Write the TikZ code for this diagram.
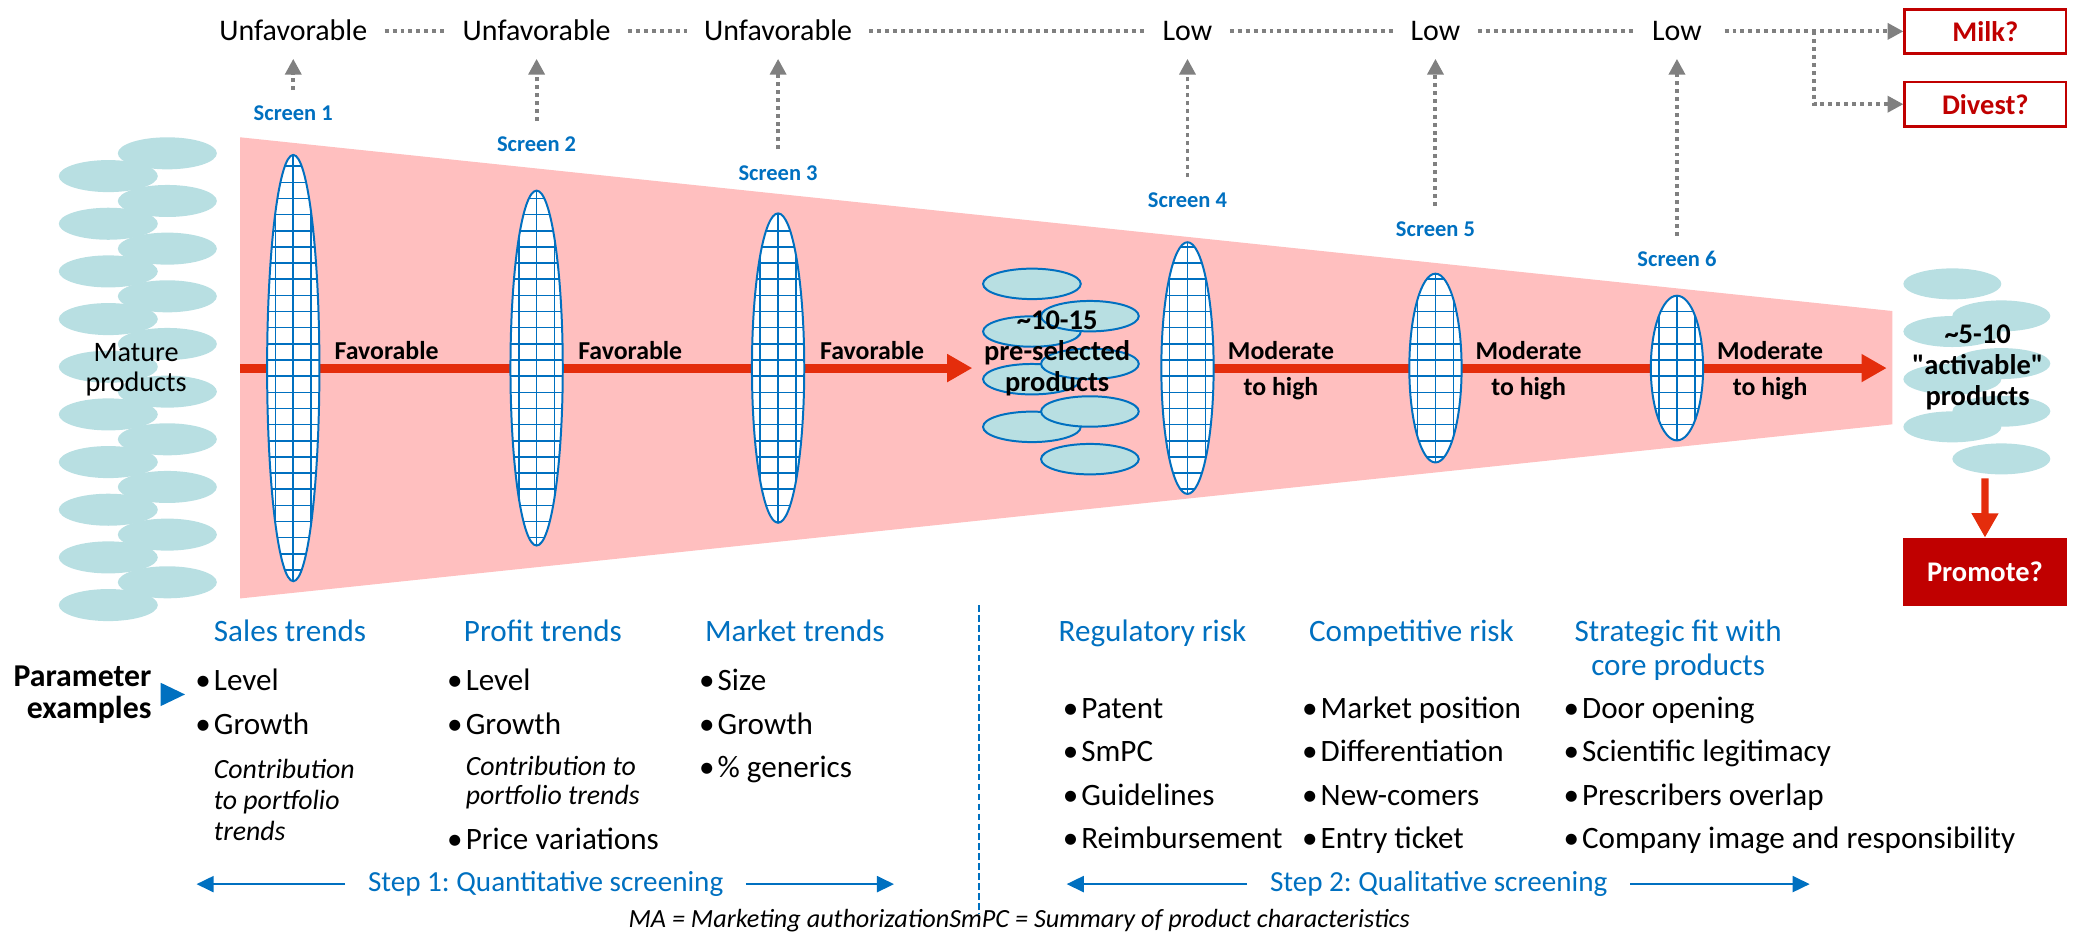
\documentclass[tikz,border=0pt]{standalone}
\usepackage{fontspec}
\setmainfont{Carlito}
\usetikzlibrary{arrows.meta,shapes.geometric}
\definecolor{myblue}{HTML}{0070C0}
\definecolor{arrowred}{HTML}{E42D0C}
\definecolor{wedgepink}{HTML}{FFBFBF}
\definecolor{prodblue}{HTML}{B8DFE2}
\definecolor{darkred}{HTML}{C00000}
\definecolor{dotgray}{HTML}{808080}
\pgfdeclarelayer{bg}
\pgfdeclarelayer{flow}
\pgfsetlayers{bg,flow,main}
\frenchspacing
\newcommand\itm{\makebox[13pt][l]{\hspace{-1pt}\textbullet}}
\tikzset{
  resultlabel/.style={font=\fontsize{22.6}{26}\selectfont, inner sep=0pt, text height=14pt, text depth=0pt, anchor=base},
  screenlabel/.style={font=\fontsize{17}{20}\selectfont\bfseries, text=myblue, inner sep=0pt, text height=11pt, text depth=0pt, anchor=base},
  dotline/.style={draw=dotgray, line width=3pt, dash pattern=on 3pt off 3pt},
  dotarrow/.style={dotline, -{Triangle[length=12pt,width=12pt]}},
  flowarrow/.style={draw=arrowred, line width=6.8pt, -{Triangle[length=19pt,width=20pt]}},
  lens/.style={ellipse, draw=myblue, line width=1.5pt, fill=white, minimum width=39.5pt, inner sep=0pt, outer sep=0pt,
    path picture={
      \foreach \dx in {-13.5,0,13.5}
        \draw[myblue, line width=1.2pt] ([xshift=\dx pt]path picture bounding box.north) -- ([xshift=\dx pt]path picture bounding box.south);
      \foreach \k in {-14,...,13}
        \draw[myblue, line width=1.2pt] ([yshift=\k*12.2pt+6.1pt]path picture bounding box.west) -- ([yshift=\k*12.2pt+6.1pt]path picture bounding box.east);
    }},
  cellout/.style={draw=myblue, fill=prodblue, line width=1.5pt},
  passlabel/.style={font=\fontsize{19.5}{27}\selectfont\bfseries, align=center, inner sep=0pt, anchor=base},
  grouplabel/.style={font=\fontsize{21.5}{23.3}\selectfont\bfseries, align=center, inner sep=0pt, anchor=base},
  decision/.style={draw=darkred, line width=2pt, fill=white, text=darkred, font=\fontsize{21.5}{24}\selectfont\bfseries, minimum width=121.7pt, minimum height=33.3pt, inner sep=0pt},
  promotebox/.style={fill=darkred, text=white, font=\fontsize{21.5}{24}\selectfont\bfseries, minimum width=124.3pt, minimum height=51.7pt, inner sep=0pt, outer sep=0pt},
  heading/.style={font=\fontsize{23.5}{25.7}\selectfont, text=myblue, inner sep=0pt, anchor=base west},
  bullet/.style={font=\fontsize{23.5}{28}\selectfont, inner sep=0pt, anchor=base west},
  italnote/.style={font=\fontsize{21}{23.3}\selectfont\itshape, align=left, inner sep=0pt, anchor=base west},
  steplabel/.style={font=\fontsize{22}{26}\selectfont, text=myblue, inner sep=0pt, anchor=base},
  steparrow/.style={draw=myblue, line width=2pt, shorten <=17pt, -{Triangle[length=13pt,width=12pt]}}
}
\begin{document}
\begin{tikzpicture}[x=1pt,y=-1pt]
\useasboundingbox (0,0) rectangle (1568,706);

% funnel
\begin{pgfonlayer}{bg}
  \fill[wedgepink] (181.4,103.7) -- (1429.2,234.9) -- (1429.2,320.5) -- (181.4,452) -- cycle;
\end{pgfonlayer}

% mature products
\foreach \k in {0,...,9} {
  \fill[prodblue] (126.4,115.8+36*\k) ellipse [x radius=37.4, y radius=12.1];
  \fill[prodblue] (81.8,133+36*\k) ellipse [x radius=37.4, y radius=12.1];
}
\node[font=\fontsize{21.3}{23.2}\selectfont, align=center, inner sep=0pt, anchor=base] (mature) at (102.8,295.9) {Mature\\products};

% screens, results above
\foreach \i/\x/\h/\r/\sy in {1/221.5/322/Unfavorable/91.2, 2/405.3/268.1/Unfavorable/114.6, 3/587.7/233.7/Unfavorable/136,
    4/896.9/190.1/Low/156.6, 5/1084.2/142.6/Low/178.8, 6/1266.6/109.3/Low/201.4} {
  \node[resultlabel] (res\i) at (\x,30.7) {\r};
  \node[screenlabel] (scr\i) at (\x,\sy) {Screen \i};
  \node[lens, minimum height=\h pt] (lens\i) at (\x,278) {};
  \draw[dotarrow, shorten <=12pt, shorten >=13.5pt] (scr\i) -- (res\i);
}
\foreach \a/\b in {1/2,2/3,3/4,4/5,5/6}
  \draw[dotline, shorten <=13pt, shorten >=13pt] (res\a) -- (res\b);

\node[decision] (milk) at (1499.5,23.7) {Milk?};
\node[decision] (divest) at (1499.5,78.7) {Divest?};
\coordinate (fork) at (1370,23.7);
\draw[dotarrow, shorten <=17pt] (res6) -- (milk);
\draw[dotarrow] (fork) |- (divest);

% main flow
\coordinate (fin) at (181.4,278);
\coordinate (fmid) at (734.4,278);
\coordinate (fout) at (1425,278);
\begin{pgfonlayer}{flow}
  \draw[flowarrow] (fin) -- (fmid);
  \draw[flowarrow] (lens4.center) -- (fout);
\end{pgfonlayer}
\foreach \i/\x in {1/292,2/476,3/658.7}
  \node[passlabel] (fav\i) at (\x,271.4) {Favorable};
\foreach \i/\x in {4/967.5,5/1154.6,6/1337}
  \node[passlabel] (mod\i) at (\x,298.5) {Moderate\\to high};

% pre-selected and activable groups
\foreach \k in {0,...,3} \draw[cellout] (779.4,214.4+36*\k) ellipse [x radius=36.9, y radius=11.5];
\foreach \k in {0,...,3} \draw[cellout] (823.2,238.8+36*\k) ellipse [x radius=36.9, y radius=11.5];
\node[grouplabel] (presel) at (798.5,295.4) {\textasciitilde10-15\\pre-selected\\products};
\foreach \k in {0,...,3} {
  \fill[prodblue] (1474.6,214.4+36*\k) ellipse [x radius=37, y radius=11.7];
  \fill[prodblue] (1511.6,238.6+36*\k) ellipse [x radius=37, y radius=11.7];
}
\node[grouplabel] (activ) at (1493.7,306.4) {\textasciitilde5-10\\\textquotedbl activable\textquotedbl\\products};
\coordinate (actbot) at (1499.3,361.3);
\node[promotebox] (promote) at (1499.2,431.9) {Promote?};
\draw[flowarrow, line width=5.5pt, -{Triangle[length=18.4pt,width=19.2pt]}] (actbot) -- (promote);

% parameters
\node[font=\fontsize{24}{24.4}\selectfont\bfseries, align=right, inner sep=0pt, anchor=base east] (param) at (114.6,542.6) {Parameter\\examples};
\fill[myblue] (121.4,515.7) -- (139.7,524.5) -- (121.4,533.3) -- cycle;

\node[heading] (h1) at (161.4,484.7) {Sales trends};
\node[heading] (h2) at (350.2,484.7) {Profit trends};
\node[heading] (h3) at (532.3,484.7) {Market trends};
\node[heading] (h4) at (799.4,484.7) {Regulatory risk};
\node[heading] (h5) at (988.5,484.7) {Competitive risk};
\node[heading, anchor=base, align=center] (h6) at (1267.5,510.4) {Strategic fit with\\core products};

\foreach \t [count=\i] in {Level,Growth}
  \node[bullet] (sal\i) at (148.4,489+32.7*\i) {\itm\t};
\node[italnote] (salnote) at (161.4,634.5) {Contribution\\to portfolio\\trends};
\foreach \t [count=\i] in {Level,Growth}
  \node[bullet] (pro\i) at (338.6,489+32.7*\i) {\itm\t};
\node[italnote, font=\fontsize{21}{22}\selectfont\itshape] (pronote) at (351.6,607.4) {Contribution to\\portfolio trends};
\node[bullet] (pro3) at (338.6,641.5) {\itm Price variations};
\foreach \t [count=\i] in {Size,Growth,\% generics}
  \node[bullet] (mkt\i) at (528.9,489+32.7*\i) {\itm\t};

\foreach \t [count=\i] in {Patent,SmPC,Guidelines,Reimbursement}
  \node[bullet] (reg\i) at (803.5,509.8+32.8*\i) {\itm\t};
\foreach \t [count=\i] in {Market position,Differentiation,New-comers,Entry ticket}
  \node[bullet] (com\i) at (984.3,509.8+32.8*\i) {\itm\t};
\foreach \t [count=\i] in {Door opening,Scientific legitimacy,Prescribers overlap,Company image and responsibility}
  \node[bullet] (fit\i) at (1181.8,509.8+32.8*\i) {\itm\t};

% steps
\coordinate (sepTop) at (739.4,457);
\coordinate (sepBot) at (739.4,690);
\draw[myblue, line width=1pt, dash pattern=on 5pt off 2.5pt] (sepTop) -- (sepBot);
\node[steplabel] (step1) at (412.1,673.5) {Step 1: Quantitative screening};
\node[steplabel] (step2) at (1086.6,673.5) {Step 2: Qualitative screening};
\coordinate (s1l) at (148.4,668.5);
\coordinate (s1r) at (675.3,668.5);
\coordinate (s2l) at (805.6,668.5);
\coordinate (s2r) at (1366.9,668.5);
\draw[steparrow] (step1.west) -- (step1.west -| s1l);
\draw[steparrow] (step1.east) -- (step1.east -| s1r);
\draw[steparrow] (step2.west) -- (step2.west -| s2l);
\draw[steparrow] (step2.east) -- (step2.east -| s2r);

\node[font=\fontsize{19.8}{22}\selectfont\itshape, inner sep=0pt, anchor=base west] (foot) at (474.5,700.8) {MA = Marketing authorizationSmPC = Summary of product characteristics};
\end{tikzpicture}
\end{document}
